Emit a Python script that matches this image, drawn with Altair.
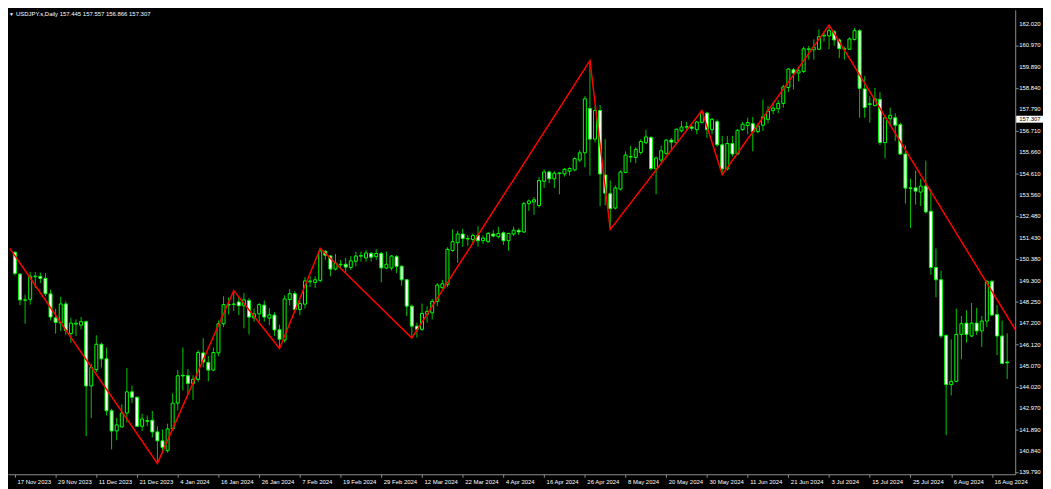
import altair as alt
import pandas as pd

# ---- OHLC values (daily bars, 17 Nov 2023 onward) ----
opens = [150.70, 149.62, 148.34, 148.37, 149.49, 149.51, 149.41, 148.64, 147.45, 147.19,
         148.14, 146.67, 147.14, 147.09, 147.26, 144.07, 144.89, 146.14, 145.42, 142.84,
         141.84, 142.04, 142.73, 143.78, 143.51, 142.07, 142.35, 142.37, 141.79, 141.35,
         140.86, 141.94, 143.22, 144.60, 144.58, 144.20, 144.40, 145.71, 145.24, 144.86,
         145.71, 147.16, 148.13, 148.11, 148.24, 148.05, 148.31, 147.45, 147.65, 148.08,
         147.44, 147.59, 146.86, 146.35, 148.36, 148.65, 147.86, 148.13, 149.24, 149.21,
         149.31, 150.75, 150.52, 149.87, 150.08, 150.11, 149.95, 150.26, 150.51, 150.42,
         150.65, 150.49, 150.65, 149.92, 149.92, 150.49, 150.01, 149.34, 148.03, 147.04,
         146.88, 147.63, 147.70, 148.27, 148.95, 149.10, 150.79, 151.18, 151.61, 151.36,
         151.34, 151.54, 151.28, 151.23, 151.61, 151.48, 151.67, 151.28, 151.61, 151.79,
         151.71, 153.12, 153.20, 153.02, 154.23, 154.69, 154.35, 154.61, 154.59, 154.73,
         154.79, 155.28, 155.64, 157.84, 156.32, 157.74, 154.54, 153.61, 152.90, 153.84,
         154.66, 155.43, 155.41, 155.66, 156.14, 156.40, 154.84, 155.28, 155.61, 156.27,
         156.14, 156.73, 156.91, 156.92, 156.79, 157.15, 157.61, 156.79, 157.19, 156.04,
         154.84, 156.10, 155.58, 156.79, 156.99, 157.09, 156.69, 157.01, 157.30, 157.73,
         157.83, 158.09, 158.88, 159.76, 159.60, 159.68, 160.76, 160.75, 160.78, 161.44,
         161.44, 161.65, 161.24, 160.81, 160.78, 161.27, 161.70, 158.81, 158.07, 157.99,
         158.29, 156.15, 157.33, 157.38, 157.04, 155.58, 153.90, 153.90, 153.69, 153.99,
         152.74, 149.95, 149.34, 146.58, 144.14, 144.30, 146.63, 147.19, 146.55, 147.19,
         146.80, 147.29, 149.26, 147.62, 146.55, 145.26]
highs = [150.75, 149.67, 148.60, 149.72, 149.72, 149.70, 149.67, 148.85, 147.91, 148.50,
         148.27, 147.45, 147.37, 147.49, 147.32, 145.19, 146.58, 146.22, 145.98, 142.94,
         142.48, 143.16, 144.96, 144.09, 143.55, 142.69, 142.61, 142.83, 142.07, 141.91,
         142.20, 143.71, 144.86, 145.98, 144.91, 144.60, 145.85, 146.44, 145.57, 145.98,
         147.32, 148.52, 148.47, 148.80, 148.52, 148.68, 148.44, 147.91, 148.19, 148.31,
         147.93, 147.73, 147.11, 148.57, 148.88, 148.78, 148.32, 149.47, 149.54, 149.51,
         150.90, 150.82, 150.57, 150.62, 150.33, 150.41, 150.52, 150.72, 150.74, 150.82,
         150.72, 150.87, 150.72, 150.74, 150.56, 150.56, 150.06, 149.37, 148.11, 147.21,
         148.16, 148.03, 148.39, 149.18, 149.34, 150.95, 151.84, 151.77, 151.87, 151.56,
         151.64, 152.00, 151.54, 151.71, 151.80, 151.97, 151.74, 151.67, 151.97, 151.89,
         153.20, 153.33, 153.45, 154.43, 154.82, 154.76, 154.73, 154.69, 154.89, 154.92,
         155.41, 155.78, 158.45, 160.21, 157.96, 158.01, 156.32, 154.27, 154.02, 154.76,
         155.71, 155.99, 155.91, 156.32, 156.78, 156.48, 155.45, 155.99, 156.32, 156.37,
         156.84, 157.22, 157.17, 157.02, 157.22, 157.74, 157.68, 157.38, 157.30, 156.48,
         156.48, 156.48, 156.81, 157.17, 157.38, 157.42, 157.09, 158.29, 157.96, 158.16,
         158.25, 159.02, 159.85, 159.85, 159.93, 160.91, 160.95, 161.27, 161.77, 161.67,
         161.98, 161.73, 161.32, 160.91, 161.37, 161.83, 161.77, 159.44, 158.45, 158.86,
         158.65, 157.43, 157.88, 157.60, 157.14, 156.02, 154.35, 154.76, 154.35, 155.25,
         153.86, 150.90, 149.79, 146.63, 146.39, 147.91, 147.54, 147.82, 148.19, 147.95,
         147.54, 149.34, 149.34, 148.08, 147.32, 146.68]
lows = [149.55, 148.08, 147.16, 148.11, 148.93, 149.18, 148.52, 147.32, 146.67, 146.80,
        146.63, 146.21, 146.55, 146.88, 141.58, 142.48, 144.75, 144.99, 142.61, 140.92,
        141.38, 142.01, 142.25, 143.22, 142.04, 141.84, 142.07, 141.51, 140.23, 140.79,
        140.76, 141.84, 142.86, 143.84, 143.63, 143.38, 144.27, 144.99, 144.30, 144.80,
        145.55, 146.99, 147.62, 147.78, 147.59, 146.93, 146.63, 147.26, 147.26, 147.26,
        147.08, 146.55, 145.93, 146.22, 148.06, 147.83, 147.59, 147.91, 148.98, 148.93,
        149.21, 150.33, 149.51, 149.80, 149.87, 149.67, 149.83, 150.00, 150.24, 150.24,
        150.24, 150.33, 149.21, 149.87, 149.80, 149.67, 149.05, 147.54, 146.45, 146.47,
        146.80, 147.21, 147.37, 148.03, 148.88, 148.98, 150.74, 150.19, 150.98, 151.02,
        151.07, 150.98, 151.11, 151.18, 151.44, 151.39, 151.07, 150.79, 151.51, 151.56,
        151.67, 152.76, 152.56, 152.92, 153.90, 154.13, 153.90, 153.58, 154.46, 154.51,
        154.73, 155.17, 154.92, 154.51, 156.15, 152.99, 153.03, 151.84, 152.82, 153.77,
        154.63, 155.17, 155.12, 155.55, 156.07, 154.76, 153.58, 155.17, 155.55, 155.81,
        156.07, 156.65, 156.79, 156.73, 156.56, 157.09, 156.37, 156.56, 155.94, 154.56,
        154.76, 155.45, 155.55, 156.73, 156.56, 155.71, 156.60, 156.73, 157.10, 157.55,
        157.60, 157.88, 158.65, 158.78, 159.19, 159.60, 160.26, 160.26, 160.75, 161.16,
        160.78, 160.95, 160.34, 160.26, 160.75, 161.21, 157.38, 157.38, 157.14, 157.93,
        156.02, 155.37, 156.97, 156.23, 155.53, 153.12, 151.92, 153.07, 153.00, 152.62,
        149.59, 148.47, 146.44, 141.63, 143.60, 144.25, 145.40, 146.22, 146.50, 146.60,
        146.01, 147.00, 147.54, 145.60, 145.16, 144.42]
closes = [149.65, 148.34, 148.33, 149.52, 149.52, 149.41, 148.65, 147.49, 147.22, 148.14,
          146.83, 147.19, 147.18, 147.26, 144.07, 144.99, 146.14, 145.42, 142.84, 141.84,
          142.14, 142.73, 143.78, 143.51, 142.07, 142.43, 142.32, 141.79, 141.35, 141.02,
          141.94, 143.22, 144.58, 144.57, 144.20, 144.40, 145.73, 145.26, 144.86, 145.73,
          147.16, 148.11, 148.09, 148.14, 148.05, 148.34, 147.49, 147.65, 148.11, 147.49,
          147.60, 146.85, 146.39, 148.39, 148.65, 147.86, 148.16, 149.28, 149.28, 149.34,
          150.77, 150.56, 149.87, 150.16, 150.11, 149.97, 150.28, 150.52, 150.54, 150.67,
          150.46, 150.65, 149.93, 150.11, 150.52, 150.00, 149.34, 148.03, 147.04, 146.88,
          147.67, 147.77, 148.27, 149.08, 149.14, 150.85, 151.23, 151.61, 151.39, 151.39,
          151.54, 151.28, 151.41, 151.64, 151.51, 151.64, 151.28, 151.64, 151.80, 151.71,
          153.12, 153.25, 153.31, 154.27, 154.69, 154.35, 154.63, 154.64, 154.82, 154.86,
          155.35, 155.64, 158.32, 156.32, 157.74, 154.59, 153.64, 152.87, 153.90, 154.69,
          155.53, 155.46, 155.81, 156.20, 156.43, 154.86, 155.38, 155.74, 156.27, 156.17,
          156.81, 156.92, 156.94, 156.86, 157.17, 157.63, 156.79, 157.30, 156.04, 154.84,
          156.10, 155.58, 156.76, 157.06, 157.14, 156.69, 156.97, 157.43, 157.71, 157.86,
          158.09, 158.91, 159.80, 159.60, 159.71, 160.80, 160.80, 160.88, 161.40, 161.47,
          161.70, 161.24, 160.81, 160.78, 161.29, 161.70, 158.84, 157.89, 158.04, 158.32,
          156.15, 157.38, 157.50, 157.01, 155.58, 153.89, 153.87, 153.74, 153.99, 152.71,
          149.95, 149.34, 146.55, 144.14, 144.30, 146.63, 147.16, 146.63, 147.19, 146.80,
          147.29, 149.26, 147.59, 146.55, 145.19, 145.22]

# ---- axis labels ----
date_labels = ["17 Nov 2023", "29 Nov 2023", "11 Dec 2023", "21 Dec 2023", "4 Jan 2024",
               "16 Jan 2024", "26 Jan 2024", "7 Feb 2024", "19 Feb 2024", "29 Feb 2024",
               "12 Mar 2024", "22 Mar 2024", "4 Apr 2024", "16 Apr 2024", "26 Apr 2024",
               "8 May 2024", "20 May 2024", "30 May 2024", "11 Jun 2024", "21 Jun 2024",
               "3 Jul 2024", "15 Jul 2024", "25 Jul 2024", "6 Aug 2024", "16 Aug 2024"]
date_label_bars = [8 * i for i in range(len(date_labels))]
price_ticks = [162.020, 160.970, 159.890, 158.840, 157.790, 156.710, 155.660, 154.610,
               153.560, 152.480, 151.430, 150.380, 149.300, 148.250, 147.200, 146.120,
               145.070, 144.020, 142.970, 141.890, 140.840, 139.790]

# ---- ZigZag indicator pivots (bar index, price) ----
zz_bars = [-1, 28, 43, 52, 60, 78, 113, 117, 135, 139, 160, 197]
zz_prices = [150.90, 140.23, 148.80, 145.93, 150.90, 146.45, 160.21, 151.84, 157.74,
             154.56, 161.98, 146.70]

title_text = "USDJPY.s,Daily 157.445 157.557 156.866 157.307"
last_price = 157.307

# ---- build ----
n = len(opens)
df = pd.DataFrame({"idx": list(range(n)), "open": opens, "high": highs,
                   "low": lows, "close": closes})
zz = pd.DataFrame({"idx": zz_bars, "price": zz_prices})
lp = pd.DataFrame({"price": [last_price], "label": [f"{last_price:.3f}"]})
ticks_df = pd.DataFrame({"price": price_ticks,
                         "label": [f"{p:.3f}" for p in price_ticks]})

W, H = 1015, 468
FONT = "Liberation Sans"
AXIS_GREY = "#8c8c8c"
TEXT = "#ffffff"

xscale = alt.Scale(domain=[-0.386, 195.6], nice=False, zero=False)
yscale = alt.Scale(domain=[139.69, 162.734], nice=False, zero=False)

label_expr = "[" + ",".join(f"'{d}'" for d in date_labels) + "][round(datum.value / 8)]"

x_axis = alt.Axis(values=date_label_bars, labelExpr=label_expr, orient="bottom",
                  labelAlign="left", labelBaseline="top", labelOffset=2, labelPadding=1,
                  tickSize=3, labelFontSize=6, labelFont=FONT, labelColor=TEXT,
                  domainColor=AXIS_GREY, tickColor=AXIS_GREY, grid=False, title=None,
                  labelOverlap=False, labelFlush=False)
y_axis = alt.Axis(values=price_ticks, orient="right", labels=False, tickSize=3,
                  domainColor=AXIS_GREY, tickColor=AXIS_GREY, grid=False, title=None)

base = alt.Chart(df)
wicks = base.mark_rule(color="#00c800", strokeWidth=1).encode(
    x=alt.X("idx:Q", scale=xscale, axis=x_axis),
    y=alt.Y("low:Q", scale=yscale, axis=y_axis),
    y2="high:Q",
)
bodies = base.mark_bar(size=3, stroke="#00ff00", strokeWidth=1).encode(
    x=alt.X("idx:Q", scale=xscale),
    y=alt.Y("open:Q", scale=yscale),
    y2="close:Q",
    fill=alt.condition("datum.close > datum.open", alt.value("#000000"), alt.value("#ffffff")),
)
zig = alt.Chart(zz).mark_line(color="#ff0000", strokeWidth=1.5, clip=True).encode(
    x=alt.X("idx:Q", scale=xscale),
    y=alt.Y("price:Q", scale=yscale),
)
price_labels = alt.Chart(ticks_df).mark_text(
    align="left", baseline="middle", fontSize=6, font=FONT, color=TEXT).encode(
    x=alt.value(W + 4), y=alt.Y("price:Q", scale=yscale), text="label:N")
box = alt.Chart(lp).mark_rule(color="#ffffff", strokeWidth=7, strokeCap="butt").encode(
    x=alt.value(W + 1), x2=alt.value(W + 28),
    y=alt.Y("price:Q", scale=yscale),
)
box_text = alt.Chart(lp).mark_text(align="left", baseline="middle", fontSize=6, font=FONT,
                                   color="#000000").encode(
    x=alt.value(W + 4), y=alt.Y("price:Q", scale=yscale), text="label:N")
tri = alt.Chart(pd.DataFrame({"t": ["▼"]})).mark_text(
    align="left", baseline="middle", fontSize=5, color=TEXT).encode(
    x=alt.value(1), y=alt.value(4), text="t:N")
title_mark = alt.Chart(pd.DataFrame({"t": [title_text]})).mark_text(
    align="left", baseline="middle", fontSize=6, font=FONT, color=TEXT).encode(
    x=alt.value(8), y=alt.value(4), text="t:N")

chart = alt.layer(wicks, bodies, zig, price_labels, box, box_text, tri, title_mark).properties(
    width=W, height=H,
    autosize=alt.AutoSizeParams(type="none"),
    padding={"left": 0, "top": 0, "right": 28, "bottom": 13},
    background="#000000",
).configure_view(strokeWidth=0)

chart.save("out.html", embed_options={"renderer": "svg", "actions": False})
